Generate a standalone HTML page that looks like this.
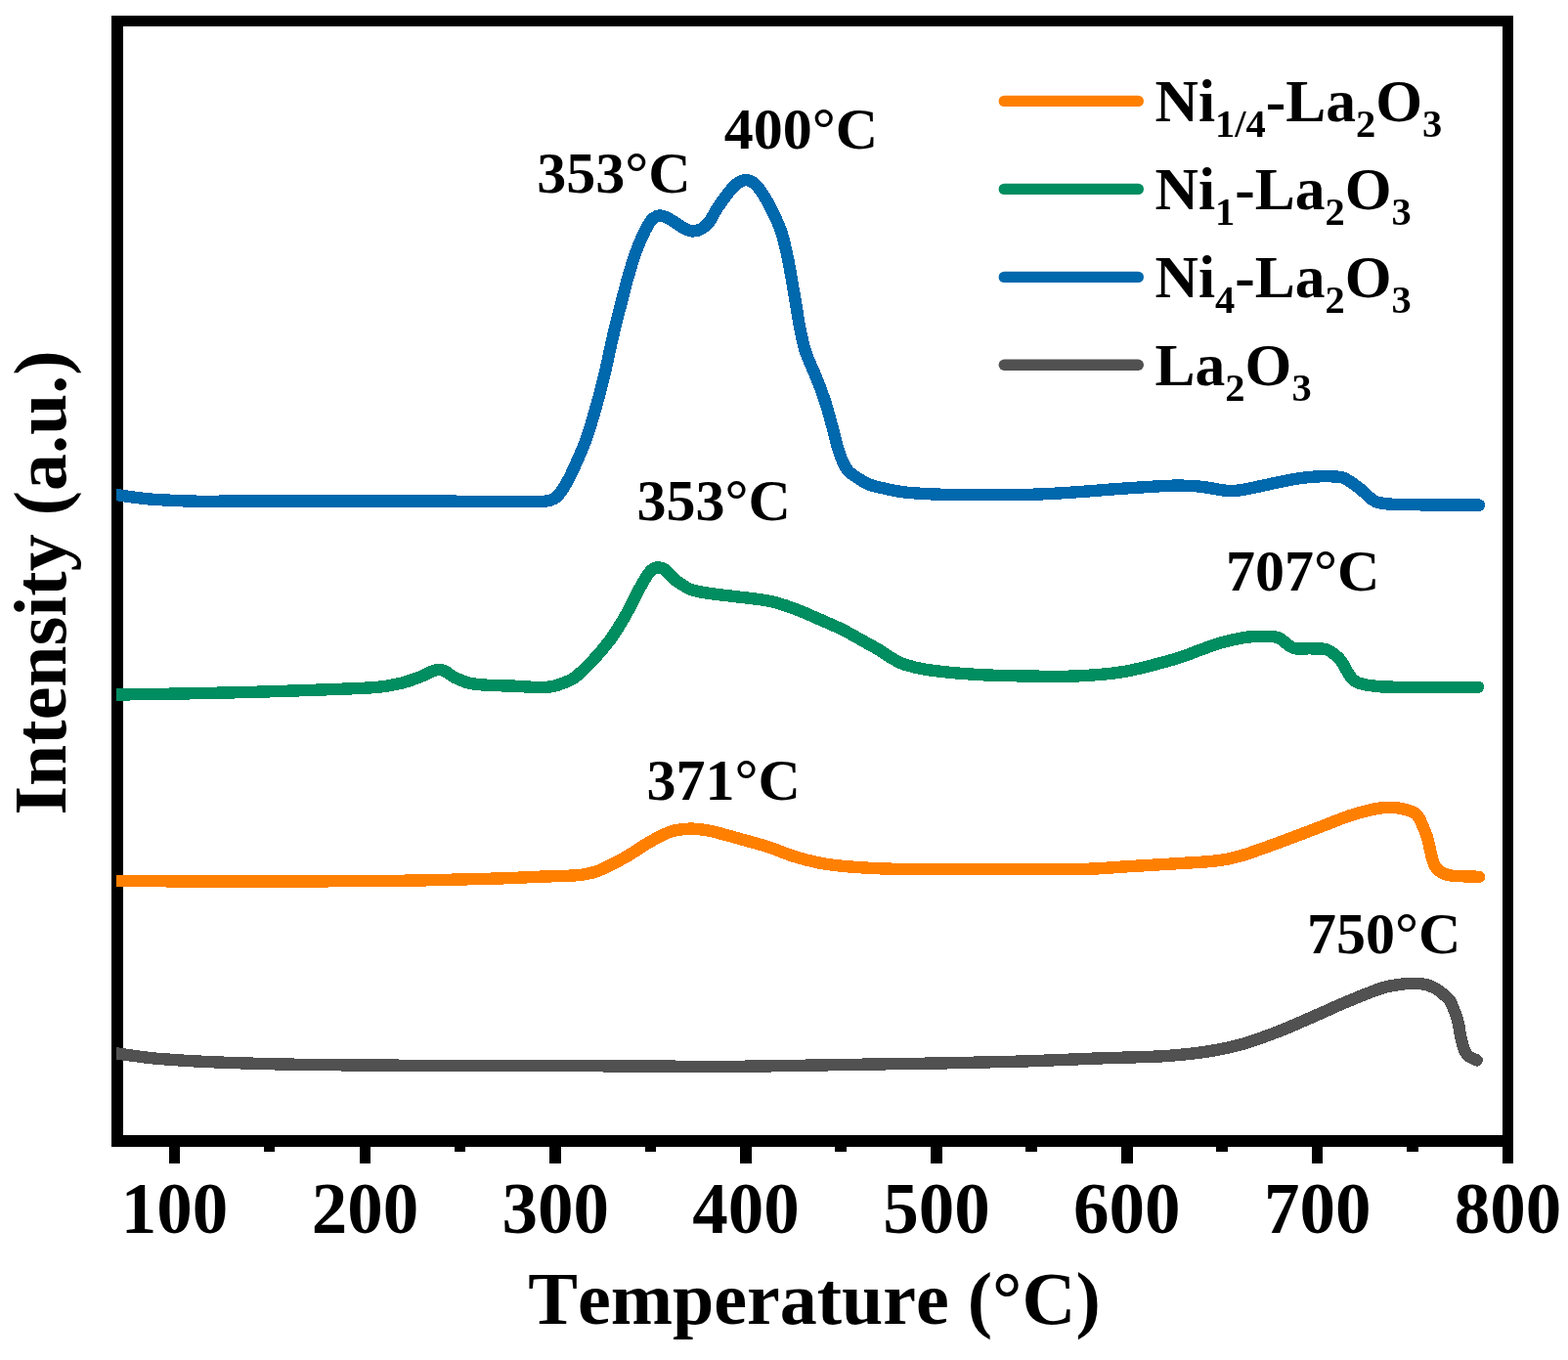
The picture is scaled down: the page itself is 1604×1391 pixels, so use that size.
<!DOCTYPE html>
<html lang="en"><head><meta charset="utf-8"><title>H2-TPR profiles</title>
<style>
html,body{margin:0;padding:0;background:#fff;}
body{width:1604px;height:1391px;overflow:hidden;}
svg{display:block;}
text{font-family:"Liberation Serif","Noto Serif CJK SC",serif;font-weight:bold;fill:#000;font-kerning:none;font-variant-ligatures:none;}
.tick{font-size:73px;text-anchor:middle;}
.ann{font-size:60px;}
.leg{font-size:61.5px;}
.title{font-size:76px;text-anchor:middle;}
.curve{fill:none;stroke-width:12.4;stroke-linejoin:round;stroke-linecap:round;}
</style></head><body>
<svg width="1604" height="1391" viewBox="0 0 1604 1391">
<rect width="1604" height="1391" fill="#fff"/>
<defs><clipPath id="plot"><rect x="119" y="27" width="1418" height="1134"/></clipPath></defs>
<g fill="#000" shape-rendering="crispEdges">
<rect x="114" y="16" width="1434" height="11"/>
<rect x="114" y="1161" width="1434" height="12"/>
<rect x="114" y="16" width="12" height="1157"/>
<rect x="1537" y="16" width="11" height="1174"/>
<rect x="173" y="1161" width="11" height="29"/>
<rect x="368" y="1161" width="11" height="29"/>
<rect x="562" y="1161" width="12" height="29"/>
<rect x="757" y="1161" width="12" height="29"/>
<rect x="952" y="1161" width="12" height="29"/>
<rect x="1147" y="1161" width="12" height="29"/>
<rect x="1342" y="1161" width="11" height="29"/>
<rect x="270" y="1161" width="11" height="17"/>
<rect x="465" y="1161" width="11" height="17"/>
<rect x="660" y="1161" width="11" height="17"/>
<rect x="854" y="1161" width="12" height="17"/>
<rect x="1049" y="1161" width="12" height="17"/>
<rect x="1244" y="1161" width="12" height="17"/>
<rect x="1439" y="1161" width="12" height="17"/>
</g>
<g clip-path="url(#plot)" shape-rendering="crispEdges">
<path class="curve" stroke="#515151" d="M119.0,1077.4 C122.5,1077.9 133.2,1079.4 140.0,1080.3 C146.8,1081.2 148.3,1081.8 160.0,1082.7 C171.7,1083.6 189.2,1085.0 210.0,1085.9 C230.8,1086.9 259.8,1087.8 284.7,1088.4 C309.6,1089.0 321.9,1089.1 359.5,1089.4 C397.1,1089.7 469.9,1090.1 510.0,1090.2 C550.0,1090.3 562.0,1090.1 599.8,1090.2 C637.6,1090.3 699.6,1091.0 737.0,1090.9 C774.4,1090.8 797.2,1090.1 824.4,1089.7 C851.6,1089.3 874.9,1088.8 900.0,1088.4 C925.1,1088.0 949.9,1087.7 974.9,1087.2 C999.9,1086.7 1024.8,1086.2 1049.7,1085.4 C1074.7,1084.6 1101.7,1083.2 1124.6,1082.4 C1147.5,1081.6 1170.4,1081.3 1187.0,1080.4 C1203.6,1079.5 1214.0,1078.2 1224.4,1077.0 C1234.8,1075.8 1240.9,1074.7 1249.3,1073.0 C1257.7,1071.3 1264.4,1070.0 1274.9,1066.7 C1285.4,1063.4 1299.8,1058.2 1312.3,1053.2 C1324.8,1048.2 1338.5,1041.9 1349.7,1037.0 C1360.9,1032.1 1369.3,1028.1 1379.7,1023.8 C1390.1,1019.5 1404.5,1013.7 1412.1,1011.1 C1419.6,1008.5 1420.8,1008.8 1425.0,1008.0 C1429.2,1007.2 1433.5,1006.7 1437.0,1006.3 C1440.5,1005.9 1443.1,1005.8 1446.0,1005.8 C1448.9,1005.8 1451.8,1005.9 1454.5,1006.3 C1457.2,1006.7 1459.5,1007.1 1462.0,1008.0 C1464.5,1008.9 1467.2,1010.2 1469.5,1011.6 C1471.8,1013.0 1473.8,1014.5 1476.0,1016.5 C1478.2,1018.5 1481.2,1020.7 1483.0,1023.3 C1484.8,1025.9 1485.7,1028.9 1487.0,1032.0 C1488.3,1035.1 1489.8,1039.0 1490.7,1042.0 C1491.6,1045.0 1492.0,1047.1 1492.5,1050.0 C1493.0,1052.9 1493.4,1056.6 1494.0,1059.5 C1494.6,1062.4 1495.3,1065.0 1496.0,1067.5 C1496.7,1070.0 1497.2,1072.3 1498.2,1074.4 C1499.2,1076.5 1499.9,1078.3 1502.0,1080.0 C1504.1,1081.7 1509.2,1083.7 1510.7,1084.4"/>
<path class="curve" stroke="#FF8000" d="M119.0,900.8 C134.2,900.9 178.2,901.5 210.0,901.6 C241.8,901.7 276.4,901.6 309.6,901.5 C342.8,901.4 376.0,901.3 409.4,900.8 C442.8,900.3 486.6,899.2 510.0,898.5 C533.4,897.8 538.2,897.2 549.9,896.8 C561.6,896.3 572.5,896.1 580.0,895.8 C587.5,895.5 590.8,895.3 594.8,894.8 C598.8,894.3 600.7,893.9 604.0,893.0 C607.3,892.1 608.8,892.2 614.8,889.5 C620.8,886.8 631.4,881.5 639.7,876.8 C648.0,872.1 657.2,865.4 664.7,861.1 C672.2,856.8 679.5,853.2 684.7,851.1 C689.9,849.0 692.3,849.1 696.0,848.5 C699.7,847.9 703.4,847.6 707.1,847.6 C710.8,847.6 714.2,848.0 718.0,848.5 C721.8,849.0 722.3,848.8 729.6,850.6 C736.9,852.4 752.4,856.7 762.0,859.4 C771.6,862.1 778.7,863.9 787.0,866.6 C795.3,869.3 803.6,873.2 811.9,875.8 C820.2,878.4 828.6,880.6 836.9,882.3 C845.2,884.0 851.3,884.8 861.8,885.8 C872.3,886.8 885.3,887.7 900.0,888.3 C914.7,888.9 925.0,889.2 950.0,889.3 C975.0,889.4 1022.7,889.1 1049.7,889.0 C1076.7,888.9 1095.4,889.2 1112.0,888.8 C1128.6,888.4 1134.9,887.4 1149.5,886.5 C1164.1,885.6 1184.8,884.4 1199.4,883.5 C1214.1,882.6 1228.1,881.9 1237.4,881.1 C1246.7,880.3 1248.8,880.0 1255.0,878.8 C1261.2,877.5 1265.4,876.7 1274.9,873.6 C1284.5,870.5 1299.8,864.9 1312.3,860.3 C1324.8,855.7 1338.5,850.4 1349.7,846.1 C1360.9,841.8 1371.4,837.5 1379.7,834.6 C1388.0,831.7 1394.5,830.2 1399.6,828.9 C1404.6,827.6 1406.7,827.3 1410.0,826.8 C1413.3,826.3 1416.4,826.0 1419.6,825.9 C1422.8,825.8 1426.1,826.0 1429.0,826.3 C1431.9,826.6 1434.2,827.1 1437.0,827.9 C1439.8,828.6 1443.7,829.5 1446.0,830.8 C1448.3,832.1 1449.4,833.1 1451.0,835.5 C1452.6,837.9 1454.1,841.8 1455.5,845.0 C1456.9,848.2 1458.3,851.2 1459.5,854.9 C1460.7,858.6 1461.5,862.9 1462.5,867.0 C1463.5,871.1 1464.4,876.4 1465.5,879.8 C1466.6,883.2 1467.5,885.4 1469.0,887.5 C1470.5,889.6 1472.5,891.1 1474.5,892.3 C1476.5,893.5 1478.5,894.2 1481.0,894.8 C1483.5,895.4 1484.2,895.7 1489.5,896.0 C1494.8,896.3 1509.1,896.7 1513.0,896.8"/>
<path class="curve" stroke="#008D60" d="M119.0,710.5 C130.0,710.3 161.5,710.0 184.9,709.5 C208.3,709.0 234.8,708.5 259.7,707.8 C284.6,707.1 313.8,706.1 334.6,705.3 C355.4,704.5 372.0,704.0 384.5,703.0 C397.0,702.0 401.9,700.8 409.4,699.0 C416.9,697.2 424.3,694.4 429.4,692.5 C434.5,690.6 436.7,688.8 440.0,687.5 C443.3,686.2 446.6,685.0 449.4,685.0 C452.2,685.0 454.5,686.2 457.0,687.5 C459.5,688.8 460.6,690.7 464.3,692.5 C468.0,694.3 473.4,697.1 479.3,698.5 C485.2,699.9 492.4,700.4 500.0,700.9 C507.6,701.4 516.7,701.2 525.0,701.6 C533.3,702.0 544.1,702.9 549.9,703.1 C555.7,703.3 556.7,703.2 560.0,702.8 C563.3,702.4 565.4,702.5 569.9,700.9 C574.4,699.3 581.5,697.2 587.3,693.3 C593.1,689.3 598.5,683.8 604.8,677.2 C611.0,670.6 619.0,661.4 624.8,653.5 C630.6,645.6 634.7,638.5 639.7,629.8 C644.7,621.1 650.8,608.2 654.7,601.1 C658.6,594.0 660.8,590.2 663.0,587.0 C665.2,583.8 666.3,583.1 668.0,582.0 C669.7,580.9 671.4,580.2 673.4,580.3 C675.4,580.4 677.3,580.5 680.0,582.5 C682.7,584.5 686.6,589.7 689.6,592.3 C692.6,594.9 695.1,596.2 698.0,598.0 C700.9,599.8 702.7,601.7 707.1,603.2 C711.5,604.7 717.5,605.7 724.6,606.8 C731.7,607.9 739.1,608.5 749.5,609.8 C759.9,611.1 776.6,612.7 787.0,614.8 C797.4,616.9 803.6,619.3 811.9,622.3 C820.2,625.3 828.6,629.2 836.9,632.8 C845.2,636.4 853.5,639.9 861.8,644.0 C870.1,648.1 880.4,654.2 886.8,657.7 C893.2,661.2 895.8,662.7 900.0,665.2 C904.2,667.8 907.8,670.6 912.0,673.0 C916.2,675.4 918.7,677.5 925.0,679.5 C931.3,681.5 937.5,683.5 950.0,685.3 C962.5,687.0 983.3,689.0 1000.0,690.0 C1016.7,691.0 1033.3,691.2 1050.0,691.5 C1066.7,691.8 1083.4,692.2 1100.0,691.5 C1116.6,690.8 1132.9,689.8 1149.5,687.0 C1166.1,684.2 1186.8,678.3 1199.4,674.8 C1212.0,671.3 1216.6,668.8 1225.0,665.8 C1233.4,662.8 1241.7,659.4 1250.0,657.1 C1258.3,654.8 1267.4,652.8 1274.9,651.8 C1282.4,650.8 1289.8,650.8 1294.8,650.8 C1299.8,650.8 1302.5,651.1 1305.0,651.5 C1307.5,651.9 1307.8,652.0 1309.8,653.3 C1311.8,654.5 1314.5,657.3 1317.0,659.0 C1319.5,660.7 1321.0,662.6 1324.8,663.3 C1328.6,664.0 1334.7,663.2 1339.7,663.3 C1344.7,663.4 1351.0,663.2 1354.7,663.8 C1358.4,664.4 1359.5,665.4 1362.0,667.0 C1364.5,668.6 1367.5,671.0 1369.7,673.3 C1371.9,675.6 1373.3,678.3 1375.0,681.0 C1376.7,683.7 1378.0,687.0 1379.7,689.5 C1381.4,692.0 1382.5,694.2 1385.0,696.0 C1387.5,697.8 1390.4,699.0 1394.6,700.0 C1398.8,701.0 1405.0,701.5 1410.0,702.0 C1415.0,702.5 1407.6,702.6 1424.6,702.7 C1441.6,702.8 1497.4,702.7 1512.0,702.7"/>
<path class="curve" stroke="#0068AC" d="M119.0,506.0 C122.5,506.5 133.2,508.2 140.0,509.0 C146.8,509.8 149.2,510.4 160.0,511.0 C170.8,511.6 188.3,512.6 205.0,512.8 C221.7,513.0 237.2,512.3 260.0,512.3 C282.8,512.2 313.7,512.5 342.0,512.5 C370.3,512.5 402.0,512.4 430.0,512.5 C458.0,512.6 491.7,512.9 510.0,513.0 C528.3,513.1 532.2,513.0 540.0,513.0 C547.8,513.0 552.7,513.1 557.0,512.7 C561.3,512.3 563.4,511.8 566.0,510.5 C568.6,509.2 570.2,507.6 572.4,505.0 C574.6,502.4 576.8,498.9 579.0,495.0 C581.2,491.1 582.4,489.1 585.7,481.9 C589.0,474.7 594.9,462.0 598.6,452.0 C602.3,442.0 604.9,433.2 608.1,422.0 C611.4,410.8 615.1,397.1 618.1,384.6 C621.1,372.1 623.4,359.7 626.3,347.2 C629.2,334.7 633.0,320.1 635.6,309.7 C638.2,299.3 639.7,293.1 642.1,284.8 C644.5,276.5 647.3,266.9 649.8,259.8 C652.3,252.7 654.8,247.0 657.0,242.0 C659.2,237.0 661.2,233.1 663.0,230.0 C664.8,226.9 666.0,225.1 668.0,223.5 C670.0,221.9 672.4,220.6 674.7,220.4 C677.0,220.2 679.5,221.4 682.0,222.5 C684.5,223.6 686.9,225.2 689.7,226.9 C692.5,228.7 695.9,231.4 699.0,233.0 C702.1,234.6 705.3,236.2 708.4,236.4 C711.5,236.6 714.6,235.6 717.5,234.0 C720.4,232.4 722.8,230.4 725.5,227.0 C728.2,223.6 730.3,218.2 733.5,213.3 C736.7,208.4 741.5,201.7 744.8,197.6 C748.0,193.5 750.2,190.7 753.0,188.5 C755.8,186.3 758.8,184.5 761.6,184.2 C764.4,183.9 767.3,184.7 770.0,186.5 C772.7,188.3 775.2,191.1 778.0,195.0 C780.8,198.9 783.6,203.2 787.0,209.9 C790.4,216.6 795.5,226.6 798.5,234.9 C801.5,243.2 803.1,251.5 805.0,259.8 C806.9,268.1 808.2,276.5 809.7,284.8 C811.2,293.1 812.6,301.4 814.0,309.7 C815.4,318.0 816.5,326.4 818.2,334.7 C819.9,343.0 821.3,351.3 824.0,359.6 C826.7,367.9 831.1,376.3 834.4,384.6 C837.7,392.9 841.0,401.2 843.7,409.5 C846.5,417.8 848.6,426.2 850.9,434.5 C853.2,442.8 855.4,452.8 857.4,459.4 C859.4,466.0 861.3,470.6 863.1,474.4 C864.9,478.2 866.1,479.9 868.0,482.0 C869.9,484.1 870.9,484.6 874.4,486.9 C877.9,489.2 883.5,493.3 889.3,495.6 C895.1,497.9 903.3,499.3 909.3,500.6 C915.2,501.9 918.2,502.6 925.0,503.4 C931.8,504.2 941.7,504.8 950.0,505.2 C958.3,505.6 958.3,505.8 975.0,505.9 C991.7,506.0 1029.2,506.3 1050.0,505.9 C1070.8,505.5 1083.4,504.4 1100.0,503.4 C1116.6,502.3 1132.9,500.7 1149.5,499.6 C1166.1,498.5 1186.8,497.1 1199.4,496.7 C1212.0,496.3 1218.2,496.9 1225.0,497.4 C1231.8,497.9 1235.0,498.8 1240.0,499.5 C1245.0,500.2 1250.0,501.6 1255.0,501.9 C1260.0,502.2 1262.5,502.4 1270.0,501.2 C1277.5,500.0 1290.8,496.8 1300.0,494.9 C1309.2,493.0 1318.3,491.0 1325.0,489.9 C1331.7,488.8 1335.0,488.5 1340.0,488.0 C1345.0,487.5 1350.8,487.2 1355.0,487.1 C1359.2,487.0 1361.7,487.2 1365.0,487.5 C1368.3,487.8 1370.9,487.2 1375.0,489.1 C1379.1,491.0 1384.7,494.9 1389.6,498.6 C1394.5,502.4 1400.7,509.0 1404.6,511.6 C1408.5,514.2 1409.7,513.8 1413.0,514.5 C1416.3,515.2 1418.5,515.5 1424.6,515.8 C1430.7,516.1 1434.8,516.2 1449.5,516.3 C1464.2,516.4 1502.4,516.5 1513.0,516.6"/>
</g>
<text class="tick" x="178.5" y="1260.6">100</text>
<text class="tick" x="373.4" y="1260.6">200</text>
<text class="tick" x="568.2" y="1260.6">300</text>
<text class="tick" x="763.1" y="1260.6">400</text>
<text class="tick" x="957.9" y="1260.6">500</text>
<text class="tick" x="1152.8" y="1260.6">600</text>
<text class="tick" x="1347.7" y="1260.6">700</text>
<text class="tick" x="1542.5" y="1260.6">800</text>
<text class="title" x="833" y="1354">Temperature (°C)</text>
<text class="title" transform="translate(66.5,596) rotate(-90)">Intensity (a.u.)</text>
<text class="ann" x="549.3" y="196.7">353°C</text>
<text class="ann" x="740.8" y="151.8">400°C</text>
<text class="ann" x="651.6" y="531.7">353°C</text>
<text class="ann" x="661.6" y="817.7">371°C</text>
<text class="ann" x="1254" y="603.6">707°C</text>
<text class="ann" x="1337" y="974.7">750°C</text>
<line class="curve" style="stroke-width:11.4" stroke="#FF8000" x1="1027.3" y1="103.4" x2="1164.3" y2="103.4"/>
<text class="leg" x="1181.5" y="123.7"><tspan dy="0">Ni</tspan><tspan dy="16.5" font-size="40.5px">1/4</tspan><tspan dy="-16.5">-La</tspan><tspan dy="16.5" font-size="40.5px">2</tspan><tspan dy="-16.5">O</tspan><tspan dy="16.5" font-size="40.5px">3</tspan></text>
<line class="curve" style="stroke-width:11.4" stroke="#008D60" x1="1027.3" y1="193.4" x2="1164.3" y2="193.4"/>
<text class="leg" x="1181.5" y="213.7"><tspan dy="0">Ni</tspan><tspan dy="16.5" font-size="40.5px">1</tspan><tspan dy="-16.5">-La</tspan><tspan dy="16.5" font-size="40.5px">2</tspan><tspan dy="-16.5">O</tspan><tspan dy="16.5" font-size="40.5px">3</tspan></text>
<line class="curve" style="stroke-width:11.4" stroke="#0068AC" x1="1027.3" y1="283.4" x2="1164.3" y2="283.4"/>
<text class="leg" x="1181.5" y="303.7"><tspan dy="0">Ni</tspan><tspan dy="16.5" font-size="40.5px">4</tspan><tspan dy="-16.5">-La</tspan><tspan dy="16.5" font-size="40.5px">2</tspan><tspan dy="-16.5">O</tspan><tspan dy="16.5" font-size="40.5px">3</tspan></text>
<line class="curve" style="stroke-width:11.4" stroke="#515151" x1="1027.3" y1="373.2" x2="1164.3" y2="373.2"/>
<text class="leg" x="1181.5" y="393.5"><tspan dy="0">La</tspan><tspan dy="16.5" font-size="40.5px">2</tspan><tspan dy="-16.5">O</tspan><tspan dy="16.5" font-size="40.5px">3</tspan></text>
</svg>
</body></html>
